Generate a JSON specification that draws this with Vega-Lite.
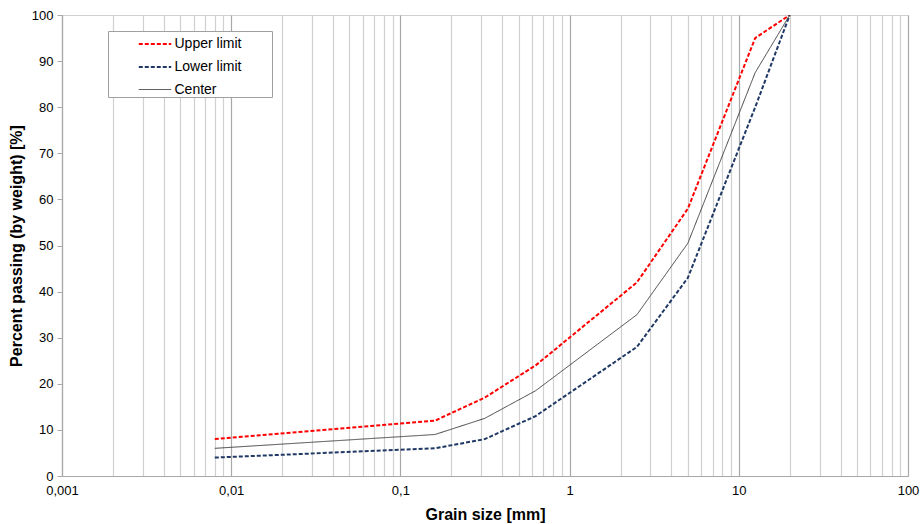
{
  "$schema": "https://vega.github.io/schema/vega-lite/v6.json",
  "autosize": {"type": "none"},
  "padding": {"left": 62, "top": 15, "right": 12, "bottom": 48},
  "width": 846,
  "height": 461,
  "background": "white",
  "config": {
    "font": "Liberation Sans",
    "view": {"stroke": "#d0d0d0", "strokeWidth": 1}
  },
  "data": {
    "values": [
      {"size": 0.008, "pct": 8, "series": "Upper limit"},
      {"size": 0.16, "pct": 12, "series": "Upper limit"},
      {"size": 0.315, "pct": 17, "series": "Upper limit"},
      {"size": 0.63, "pct": 24, "series": "Upper limit"},
      {"size": 2.5, "pct": 42, "series": "Upper limit"},
      {"size": 5, "pct": 58, "series": "Upper limit"},
      {"size": 12.5, "pct": 95, "series": "Upper limit"},
      {"size": 20, "pct": 100, "series": "Upper limit"},
      {"size": 0.008, "pct": 4, "series": "Lower limit"},
      {"size": 0.16, "pct": 6, "series": "Lower limit"},
      {"size": 0.315, "pct": 8, "series": "Lower limit"},
      {"size": 0.63, "pct": 13, "series": "Lower limit"},
      {"size": 2.5, "pct": 28, "series": "Lower limit"},
      {"size": 5, "pct": 43, "series": "Lower limit"},
      {"size": 12.5, "pct": 80, "series": "Lower limit"},
      {"size": 20, "pct": 100, "series": "Lower limit"},
      {"size": 0.008, "pct": 6, "series": "Center"},
      {"size": 0.16, "pct": 9, "series": "Center"},
      {"size": 0.315, "pct": 12.5, "series": "Center"},
      {"size": 0.63, "pct": 18.5, "series": "Center"},
      {"size": 2.5, "pct": 35, "series": "Center"},
      {"size": 5, "pct": 50.5, "series": "Center"},
      {"size": 12.5, "pct": 87.5, "series": "Center"},
      {"size": 20, "pct": 100, "series": "Center"}
    ]
  },
  "mark": {"type": "line", "clip": true},
  "encoding": {
    "x": {
      "field": "size",
      "type": "quantitative",
      "scale": {"type": "log", "domain": [0.001, 100], "nice": false},
      "axis": {
        "title": "Grain size [mm]",
        "titleFont": "Liberation Sans",
        "titleFontSize": 16,
        "titleFontWeight": "bold",
        "titleColor": "#000000",
        "titlePadding": 9,
        "values": [0.001, 0.002, 0.003, 0.004, 0.005, 0.006, 0.007, 0.008, 0.009,
                   0.01, 0.02, 0.03, 0.04, 0.05, 0.06, 0.07, 0.08, 0.09,
                   0.1, 0.2, 0.3, 0.4, 0.5, 0.6, 0.7, 0.8, 0.9,
                   1, 2, 3, 4, 5, 6, 7, 8, 9,
                   10, 20, 30, 40, 50, 60, 70, 80, 90, 100],
        "labelExpr": "datum.value == 0.001 ? '0,001' : datum.value == 0.01 ? '0,01' : datum.value == 0.1 ? '0,1' : datum.value == 1 ? '1' : datum.value == 10 ? '10' : datum.value == 100 ? '100' : ''",
        "labelFontSize": 13,
        "labelColor": "#000000",
        "labelPadding": 8,
        "labelFlush": false,
        "labelOverlap": false,
        "ticks": false,
        "grid": true,
        "gridColor": {
          "condition": {"test": "datum.value == 0.001 || datum.value == 0.01 || datum.value == 0.1 || datum.value == 1 || datum.value == 10 || datum.value == 100", "value": "#a8a8a8"},
          "value": "#d0d0d0"
        },
        "gridWidth": 1.2,
        "domainColor": "#a8a8a8",
        "domainWidth": 1.2
      }
    },
    "y": {
      "field": "pct",
      "type": "quantitative",
      "scale": {"domain": [0, 100], "nice": false},
      "axis": {
        "title": "Percent passing (by weight) [%]",
        "titleFont": "Liberation Sans",
        "titleFontSize": 16,
        "titleFontWeight": "bold",
        "titleColor": "#000000",
        "titlePadding": 7,
        "values": [0, 10, 20, 30, 40, 50, 60, 70, 80, 90, 100],
        "labelFontSize": 13,
        "labelColor": "#000000",
        "labelPadding": 4,
        "grid": false,
        "ticks": true,
        "tickSize": 5,
        "tickColor": "#a8a8a8",
        "domainColor": "#a8a8a8",
        "domainWidth": 1.2
      }
    },
    "color": {
      "field": "series",
      "type": "nominal",
      "scale": {"domain": ["Upper limit", "Lower limit", "Center"], "range": ["#ff0000", "#1f3864", "#404040"]},
      "legend": {
        "title": "\u2800\u2800\u2800",
        "titleOrient": "left",
        "titleFontSize": 13,
        "titleColor": "#ffffff",
        "titlePadding": 0,
        "orient": "none",
        "legendX": 46,
        "legendY": 16,
        "fillColor": "#ffffff",
        "strokeColor": "#a0a0a0",
        "padding": 0.5,
        "labelFontSize": 14,
        "labelColor": "#000000",
        "labelExpr": "datum.label + '\u2800\u2800\u2800'",
        "labelLimit": 300,
        "symbolType": "M-1.45,0H1.45",
        "symbolSize": 500,
        "symbolStrokeWidth": 1.6,
        "symbolOffset": 4,
        "rowPadding": 3,
        "labelOffset": 7
      }
    },
    "strokeDash": {
      "field": "series",
      "type": "nominal",
      "scale": {"domain": ["Upper limit", "Lower limit", "Center"], "range": [[4, 2], [4, 2], [1, 0]]},
      "legend": {
        "title": "\u2800\u2800\u2800",
        "titleOrient": "left",
        "orient": "none",
        "legendX": 46,
        "legendY": 16
      }
    },
    "strokeWidth": {
      "field": "series",
      "type": "nominal",
      "scale": {"type": "ordinal", "domain": ["Upper limit", "Lower limit", "Center"], "range": [2, 2, 1]},
      "legend": null
    }
  }
}
